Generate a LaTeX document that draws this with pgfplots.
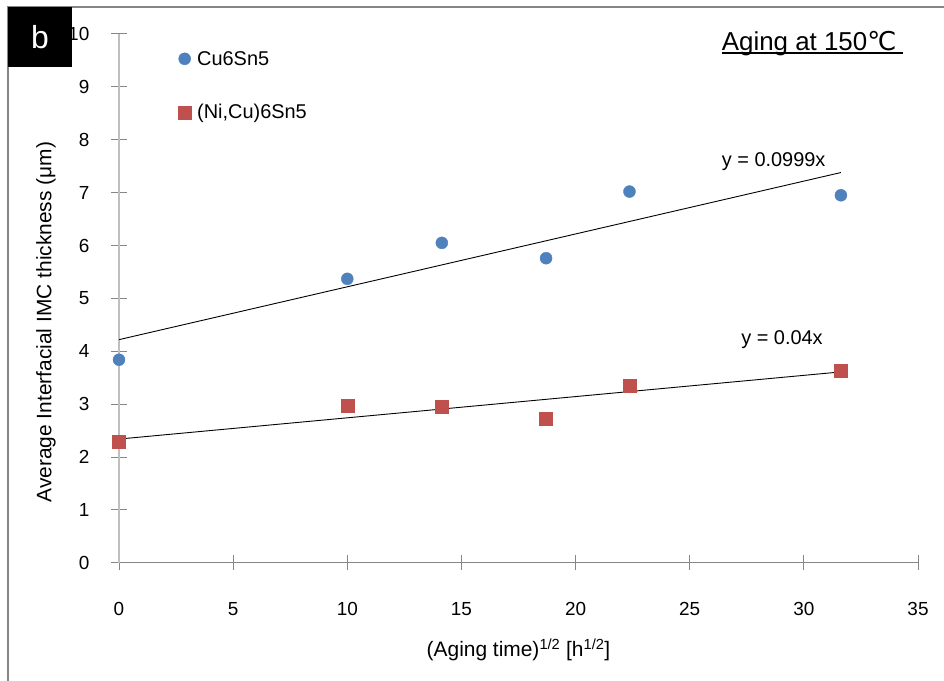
\documentclass[border=0pt]{standalone}
\usepackage{fontspec}
\setmainfont{Liberation Sans}
\newfontfamily\dejavu{DejaVu Sans}
\usepackage{pgfplots}
\pgfplotsset{compat=1.18}
\definecolor{cublue}{HTML}{4F81BD}
\definecolor{nired}{HTML}{C0504D}
\definecolor{axgray}{HTML}{868686}
\definecolor{aylgray}{HTML}{BFBFBF}
\begin{document}
\begin{tikzpicture}
\path[use as bounding box] (0,0) rectangle (944bp,681bp);
\draw[color=axgray, line width=1.5bp] (8bp,0) -- (8bp,674bp) -- (944bp,674bp);
\fill[black] (8bp,614bp) rectangle (72bp,674bp);
\node[white, font=\fontsize{32}{32}\selectfont] at (40bp,644bp) {b};
\begin{axis}[
  at={(119bp,118.2bp)}, anchor=south west,
  scale only axis, width=799bp, height=528.8bp,
  xmin=0, xmax=35, ymin=0, ymax=10,
  xtick={0,5,...,35}, ytick={0,1,...,10},
  axis lines*=left,
  x axis line style={draw=axgray, line width=1.2bp},
  y axis line style={draw=aylgray, line width=1.6bp},
  tick align=center, major tick length=15bp,
  every tick/.style={draw=axgray, line width=1bp},
  /pgf/number format/assume math mode=true,
  ticklabel style={font=\fontsize{19}{19}\selectfont},
  yticklabel style={anchor=east, inner sep=0pt, xshift=-22bp},
  xticklabel style={anchor=north, inner sep=0pt, yshift=-32bp},
  xlabel={(Aging time)\textsuperscript{1/2} [h\textsuperscript{1/2}]},
  xlabel style={at={(axis description cs:0.5,-0.165)}, anchor=center, font=\fontsize{21}{21}\selectfont},
  ylabel={Average Interfacial IMC thickness (μm)},
  ylabel style={at={(axis description cs:-0.0914,0.455)}, anchor=center, font=\fontsize{21}{21}\selectfont},
  legend style={at={(axis description cs:0.0738,0.968)}, anchor=north west, draw=none, fill=none,
    inner sep=0pt, nodes={inner sep=0pt}, font=\fontsize{20}{20}\selectfont, row sep=38bp, column sep=6bp},
  legend cell align=left,
  legend image code/.code={\draw[#1] plot coordinates {(0bp,0bp)};},
]
\addplot[only marks, mark=*, mark size=6bp, color=cublue] coordinates {(0,3.84) (10,5.37) (14.142,6.05) (18.708,5.76) (22.361,7.02) (31.623,6.95)};
\addlegendentry{Cu6Sn5}
\addplot[only marks, mark=square*, mark size=6.5bp, color=nired] coordinates {(0,2.29) (10,2.97) (14.142,2.95) (18.708,2.72) (22.361,3.34) (31.623,3.63)};
\addlegendentry{(Ni,Cu)6Sn5}
\addplot[black, line width=0.9bp, forget plot] coordinates {(0,4.22) (31.623,7.38)};
\addplot[black, line width=0.9bp, forget plot] coordinates {(0,2.34) (31.623,3.61)};
\node[anchor=west, inner sep=0pt, font=\fontsize{20}{20}\selectfont] at (axis cs:26.4,7.59) {y = 0.0999x};
\node[anchor=west, inner sep=0pt, font=\fontsize{20}{20}\selectfont] at (axis cs:27.25,4.22) {y = 0.04x};
\coordinate (T) at (axis cs:26.4,9.68);
\end{axis}
\node[anchor=base west, inner sep=0pt, font=\fontsize{26}{26}\selectfont] (title) at (T) {Aging at 150{\dejavu ℃}};
\draw[line width=1.3bp] ([yshift=-2.2bp]title.base west) -- ([yshift=-2.2bp,xshift=6bp]title.base east);
\end{tikzpicture}
\end{document}
